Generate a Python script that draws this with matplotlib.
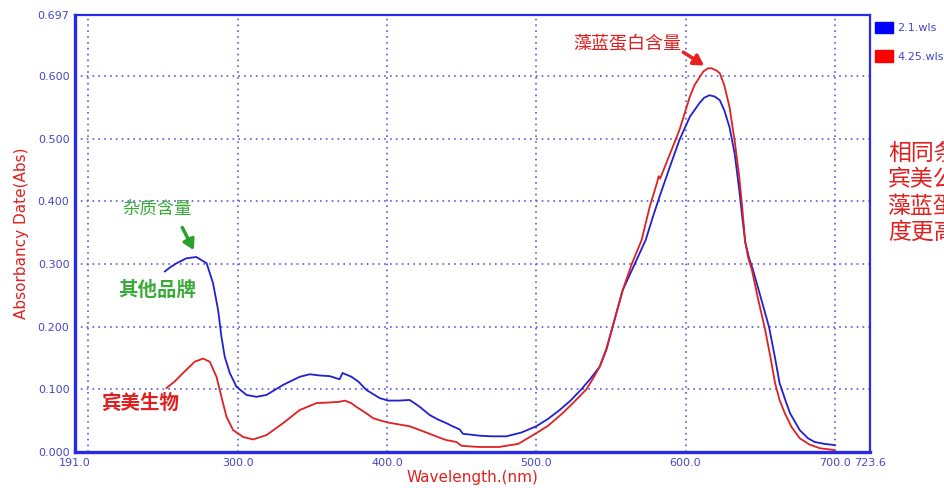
import matplotlib
matplotlib.use("Agg")
import matplotlib.pyplot as plt

plt.rcParams['font.family'] = ['DejaVu Sans', 'Noto Sans CJK SC']

# spectrum 2.1.wls (other brand)
blue_nm = [251.2, 255, 259, 265.7, 272.3, 279.2, 283.5, 286.9, 289.1, 291.3, 294.7, 299.2,
           305.9, 312.6, 319.3, 330.4, 341.6, 348.3, 355, 361.6, 368.3, 370.2, 376.2, 381,
           386.2, 395.1, 400.7, 408, 415.2, 422, 428.6, 434, 439.8, 444, 448.7, 450.9, 455,
           462, 470, 480, 490, 500, 508, 515.7, 523, 530.2, 536, 542.5, 547, 551.2, 557.9,
           566, 573.3, 578, 583, 590, 596, 603, 609.5, 612.5, 616, 619.5, 623, 626, 629.5,
           633, 636, 638, 640, 642.5, 645, 650, 656, 660, 663, 667, 670, 676.5, 682, 686.5,
           693, 700]
blue_abs = [0.288, 0.295, 0.301, 0.309, 0.311, 0.301, 0.269, 0.226, 0.184, 0.152, 0.126,
            0.104, 0.091, 0.088, 0.091, 0.107, 0.120, 0.124, 0.122, 0.121, 0.116, 0.126,
            0.120, 0.112, 0.099, 0.086, 0.082, 0.082, 0.083, 0.072, 0.059, 0.052, 0.046,
            0.041, 0.036, 0.029, 0.028, 0.026, 0.025, 0.025, 0.031, 0.041, 0.053, 0.067,
            0.082, 0.100, 0.116, 0.136, 0.163, 0.200, 0.258, 0.300, 0.338, 0.374, 0.410,
            0.458, 0.498, 0.535, 0.557, 0.565, 0.569, 0.567, 0.561, 0.545, 0.518, 0.475,
            0.418, 0.375, 0.335, 0.310, 0.292, 0.250, 0.199, 0.150, 0.110, 0.082, 0.062,
            0.035, 0.022, 0.016, 0.013, 0.011]

# spectrum 4.25.wls (Binmei)
red_nm = [252.3, 258, 263.4, 271.2, 276.8, 281.3, 285.8, 289.1, 292.5, 296.9, 303.6, 310.3,
          319.3, 330.4, 341.6, 352.8, 361.6, 368, 371.7, 376, 379.5, 386, 390.7, 396, 400.7,
          408, 415.2, 422, 428.6, 435, 439.8, 446.5, 449.8, 455, 462, 475, 488, 500, 508,
          517.7, 525, 533.6, 538, 542.5, 547, 551.2, 557.9, 564, 570.6, 576, 581, 582, 583,
          590, 596, 602.8, 606, 609.5, 612, 615, 617.5, 621, 623, 626, 629.5, 633, 636, 638,
          640, 642, 644.5, 649, 653, 657, 660, 663, 666.5, 671, 676.5, 683, 690, 700]
red_abs = [0.102, 0.113, 0.126, 0.144, 0.149, 0.144, 0.120, 0.088, 0.056, 0.035, 0.024,
           0.020, 0.027, 0.046, 0.067, 0.078, 0.079, 0.080, 0.082, 0.078, 0.072, 0.062, 0.054,
           0.050, 0.047, 0.044, 0.041, 0.035, 0.029, 0.023, 0.019, 0.016, 0.010, 0.009, 0.008,
           0.008, 0.013, 0.030, 0.042, 0.062, 0.079, 0.100, 0.117, 0.136, 0.165, 0.200, 0.258,
           0.300, 0.338, 0.391, 0.430, 0.440, 0.436, 0.478, 0.514, 0.566, 0.585, 0.598, 0.607,
           0.612, 0.612, 0.608, 0.604, 0.585, 0.550, 0.495, 0.439, 0.390, 0.335, 0.310, 0.290,
           0.240, 0.199, 0.150, 0.110, 0.083, 0.062, 0.040, 0.022, 0.012, 0.006, 0.003]

x_ticks = [191.0, 300.0, 400.0, 500.0, 600.0, 700.0, 723.6]
y_ticks = [0.0, 0.1, 0.2, 0.3, 0.4, 0.5, 0.6, 0.697]
grid_x = [200, 300, 400, 500, 600, 700]
grid_y = [0.1, 0.2, 0.3, 0.4, 0.5, 0.6]

tick_col = '#4646c8'
axis_blue = '#2a2ae6'
cjk = ['Noto Sans CJK SC', 'DejaVu Sans']

fig = plt.figure(figsize=(9.44, 4.88), dpi=100)
ax = fig.add_axes([75 / 944, 36 / 488, 795 / 944, 437 / 488])

for gx in grid_x:
    ax.axvline(gx, color='#5a5ad8', lw=1.2, ls=(0, (1, 2.5)), zorder=1)
for gy in grid_y:
    ax.axhline(gy, color='#5a5ad8', lw=1.2, ls=(0, (1, 2.5)), zorder=1)

ax.plot(blue_nm, blue_abs, color='#2020d0', lw=1.3, zorder=3)
ax.plot(red_nm, red_abs, color='#e02020', lw=1.3, zorder=3)

ax.set_xlim(191.0, 723.6)
ax.set_ylim(0, 0.697)
ax.set_xticks(x_ticks)
ax.set_xticklabels(['%.1f' % v for v in x_ticks])
ax.set_yticks(y_ticks)
ax.set_yticklabels(['%.3f' % v for v in y_ticks])
ax.tick_params(length=0, colors=tick_col, labelsize=8, pad=4)
for s in ax.spines.values():
    s.set_color(axis_blue)
    s.set_linewidth(1.6)
ax.spines['left'].set_linewidth(2.4)
ax.spines['bottom'].set_linewidth(2.4)

ax.set_xlabel('Wavelength.(nm)', color='#e02020', fontsize=11, labelpad=2)
ax.set_ylabel('Absorbancy Date(Abs)', color='#e02020', fontsize=11, labelpad=6)

# annotations
ax.annotate('', xy=(271.5, 0.318), xytext=(262, 0.362),
            arrowprops=dict(arrowstyle='-|>,head_width=0.35,head_length=0.6',
                            color='#2ca02c', lw=2.5))
ax.text(246, 0.388, '杂质含量', color='#3aaa3a', fontsize=12.5, family=cjk,
        ha='center', va='center')
ax.text(246, 0.258, '其他品牌', color='#3aaa3a', fontsize=14, family=cjk,
        weight='bold', ha='center', va='center')
ax.text(235, 0.078, '宾美生物', color='#e02020', fontsize=14, family=cjk,
        weight='bold', ha='center', va='center')
ax.annotate('', xy=(614, 0.614), xytext=(597, 0.640),
            arrowprops=dict(arrowstyle='-|>,head_width=0.35,head_length=0.6',
                            color='#e82020', lw=2.5))
ax.text(561, 0.651, '藻蓝蛋白含量', color='#e02020', fontsize=13, family=cjk,
        ha='center', va='center')

# legend boxes
fig.patches.append(plt.Rectangle((875 / 944, 1 - 33 / 488), 18 / 944, 11 / 488,
                                 transform=fig.transFigure, color='#0000ff'))
fig.patches.append(plt.Rectangle((875 / 944, 1 - 62 / 488), 18 / 944, 12 / 488,
                                 transform=fig.transFigure, color='#ff0000'))
fig.text(897 / 944, 1 - 28 / 488, '2.1.wls', color=tick_col, fontsize=8, va='center')
fig.text(897 / 944, 1 - 57 / 488, '4.25.wls', color=tick_col, fontsize=8, va='center')

fig.text(888 / 944, 1 - 141 / 488, '相同条件下，\n宾美公司的\n藻蓝蛋白纯\n度更高',
         color='#e02020', fontsize=16.5, family=cjk, va='top', ha='left', linespacing=1.2)

fig.savefig('out.png', dpi=100)
